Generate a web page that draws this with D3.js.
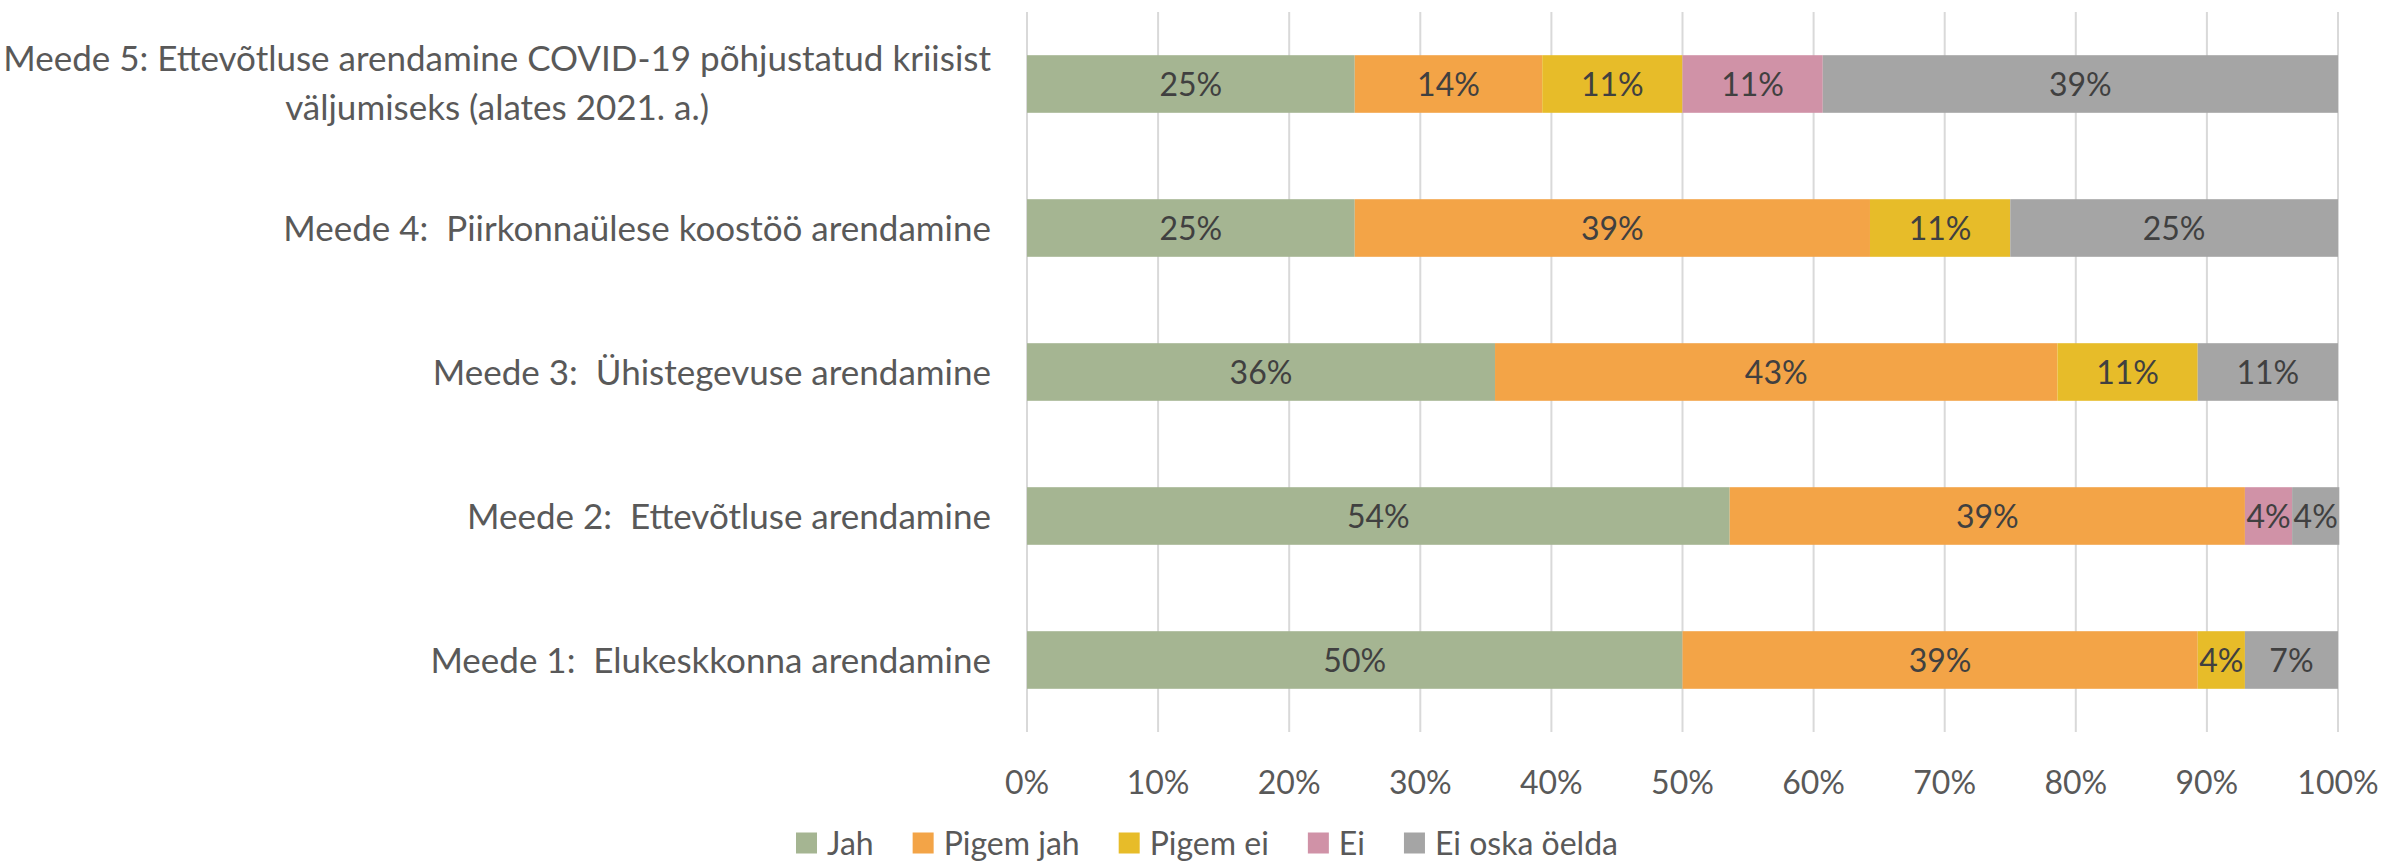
<!DOCTYPE html>
<meta charset="utf-8">
<title>Meetmed</title>
<style>
    body {
        margin: 0;
        background: #fff;
    }

    svg text {
        font-family: Lato, "Open Sans", sans-serif;
        white-space: pre;
    }

    .grid line {
        stroke: #d9d9d9;
        stroke-width: 2px;
    }
</style>

<body>
    <div id="my_chart"></div>
    <script src="https://d3js.org/d3.v7.min.js"></script>
    <script>

        // categories, top to bottom
        var categories = [
            "Meede 5: Ettevõtluse arendamine COVID-19 põhjustatud kriisist|väljumiseks (alates 2021. a.)",
            "Meede 4:  Piirkonnaülese koostöö arendamine",
            "Meede 3:  Ühistegevuse arendamine",
            "Meede 2:  Ettevõtluse arendamine",
            "Meede 1:  Elukeskkonna arendamine"
        ];

        var seriesNames = ["Jah", "Pigem jah", "Pigem ei", "Ei", "Ei oska öelda"];
        var seriesColors = ["#a5b592", "#f3a447", "#e7bc29", "#d092a7", "#a5a5a5"];

        // shares in percent, one array per series (same order as categories)
        var jah = [25.0, 25.0, 35.7, 53.6, 50.0];
        var pigemJah = [14.3, 39.3, 42.9, 39.3, 39.3];
        var pigemEi = [10.7, 10.7, 10.7, 0, 3.6];
        var ei = [10.7, 0, 0, 3.6, 0];
        var eiOska = [39.3, 25.0, 10.7, 3.6, 7.1];

        var tickValues = [0, 10, 20, 30, 40, 50, 60, 70, 80, 90, 100];

        var seriesValues = [jah, pigemJah, pigemEi, ei, eiOska];

        // set the dimensions
        var width = 2387, height = 866;
        var plotLeft = 1027, plotRight = 2338, plotTop = 12, plotBottom = 732;

        var x = d3.scaleLinear().domain([0, 100]).range([plotLeft, plotRight]);
        var y = d3.scaleBand().domain(categories).range([plotTop, plotBottom]).paddingInner(0.6).paddingOuter(0.3);

        var svg = d3.select("#my_chart")
            .append("svg")
            .attr("width", width)
            .attr("height", height);

        // gridlines
        svg.append("g")
            .attr("class", "grid")
            .selectAll("line")
            .data(tickValues)
            .enter().append("line")
            .attr("x1", function (d) { return x(d); })
            .attr("x2", function (d) { return x(d); })
            .attr("y1", plotTop)
            .attr("y2", plotBottom);

        // stacked rows
        var rows = categories.map(function (c, i) {
            var start = 0;
            return seriesValues.map(function (vals, s) {
                var seg = { cat: c, s: s, v: vals[i], x0: start, x1: start + vals[i] };
                start += vals[i];
                return seg;
            });
        });
        var segs = [].concat.apply([], rows).filter(function (d) { return d.v > 0; });

        svg.append("g")
            .selectAll("rect")
            .data(segs)
            .enter().append("rect")
            .attr("x", function (d) { return x(d.x0); })
            .attr("y", function (d) { return y(d.cat); })
            .attr("width", function (d) { return x(d.x1) - x(d.x0); })
            .attr("height", y.bandwidth())
            .attr("fill", function (d) { return seriesColors[d.s]; });

        // data labels
        svg.append("g")
            .selectAll("text")
            .data(segs)
            .enter().append("text")
            .attr("x", function (d) { return x((d.x0 + d.x1) / 2); })
            .attr("y", function (d) { return y(d.cat) + y.bandwidth() / 2; })
            .attr("dy", "0.36em")
            .attr("text-anchor", "middle")
            .attr("font-size", "32px")
            .attr("fill", "#404040")
            .text(function (d) { return Math.round(d.v) + "%"; });

        // category labels
        var catLabels = svg.append("g")
            .selectAll("text")
            .data(categories)
            .enter().append("text")
            .attr("font-size", "35px")
            .attr("fill", "#595959")
            .attr("y", function (d) { return y(d) + y.bandwidth() / 2; });

        catLabels.each(function (d) {
            var lines = d.split("|");
            var el = d3.select(this);
            if (lines.length == 1) {
                el.attr("x", plotLeft - 36)
                    .attr("dy", "0.36em")
                    .attr("text-anchor", "end")
                    .text(d);
            } else {
                // two line label, second line centred under the first
                var t1 = el.append("tspan").attr("x", plotLeft - 36).attr("dy", "-0.36em")
                    .attr("text-anchor", "end").text(lines[0]);
                var w = t1.node().getComputedTextLength();
                el.append("tspan").attr("x", plotLeft - 36 - w / 2).attr("dy", "1.4em")
                    .attr("text-anchor", "middle").text(lines[1]);
            }
        });

        // x axis tick labels
        svg.append("g")
            .selectAll("text")
            .data(tickValues)
            .enter().append("text")
            .attr("x", function (d) { return x(d); })
            .attr("y", 782)
            .attr("dy", "0.36em")
            .attr("text-anchor", "middle")
            .attr("font-size", "32px")
            .attr("fill", "#595959")
            .text(function (d) { return d + "%"; });

        // legend
        var legend = svg.append("g");
        var lx = 0;
        seriesNames.forEach(function (name, i) {
            var item = legend.append("g").attr("transform", "translate(" + lx + ",0)");
            item.append("rect")
                .attr("x", 0).attr("y", -10.5)
                .attr("width", 21).attr("height", 21)
                .attr("fill", seriesColors[i]);
            var t = item.append("text")
                .attr("x", 31)
                .attr("dy", "0.36em")
                .attr("font-size", "32px")
                .attr("fill", "#595959")
                .text(name);
            lx += 31 + t.node().getComputedTextLength() + 39;
        });
        var legendW = lx - 39;
        legend.attr("transform", "translate(" + (1207 - legendW / 2) + ",843)");

    </script>
</body>
